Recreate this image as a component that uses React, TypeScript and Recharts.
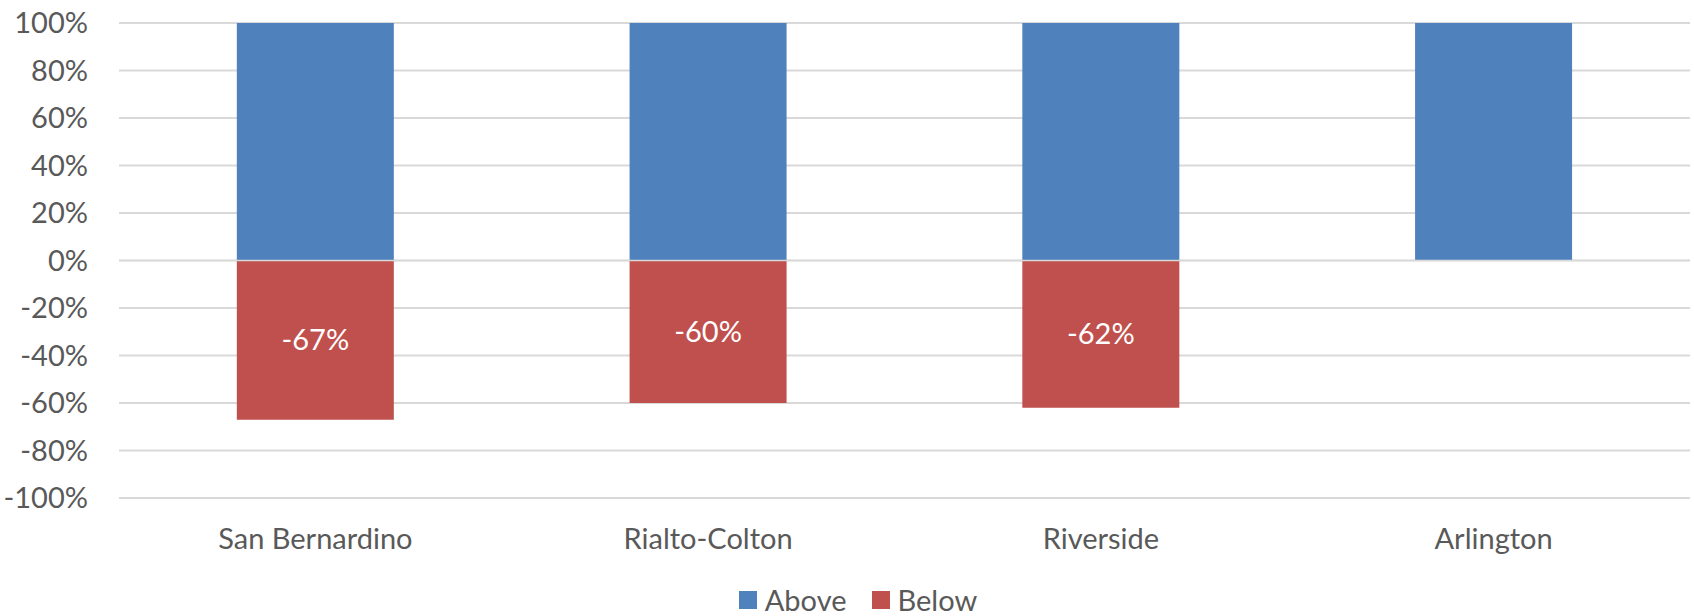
import {
  BarChart,
  Bar,
  XAxis,
  YAxis,
  CartesianGrid,
  Legend,
  LabelList,
  ReferenceLine,
} from "recharts";

const regions = ["San Bernardino", "Rialto-Colton", "Riverside", "Arlington"];
const above = [100, 100, 100, 100];
const below: (number | null)[] = [-67, -60, -62, null];
const yTicks = [-100, -80, -60, -40, -20, 0, 20, 40, 60, 80, 100];

const BLUE = "#4f81bd";
const RED = "#c0504d";
const TEXT = "#595959";
const GRID = "#d9d9d9";
const FONT = "Lato, 'Open Sans', sans-serif";
const FONT_SIZE = 29;

const data = regions.map((name, i) => ({
  name,
  above: above[i],
  below: below[i],
}));

const LegendContent = ({ payload }: any) => (
  <div
    style={{
      display: "flex",
      justifyContent: "center",
      gap: 25,
      paddingLeft: 26,
      fontFamily: FONT,
      fontSize: FONT_SIZE,
      color: TEXT,
    }}
  >
    {(payload || []).map((p: any) => (
      <span key={p.value} style={{ display: "flex", alignItems: "center" }}>
        <span
          style={{
            display: "inline-block",
            width: 18,
            height: 18,
            background: p.color,
            marginRight: 8,
          }}
        />
        {p.value}
      </span>
    ))}
  </div>
);

export default function App() {
  return (
    <div style={{ position: "absolute", left: 0, top: 0, background: "#fff" }}>
      <BarChart
        width={1694}
        height={616}
        data={data}
        stackOffset="sign"
        barCategoryGap="30%"
        margin={{ top: 23, right: 4, bottom: 0, left: 0 }}
        style={{ fontFamily: FONT }}
      >
        <CartesianGrid vertical={false} stroke={GRID} strokeWidth={2} />
        <XAxis
          dataKey="name"
          axisLine={false}
          tickLine={false}
          tickSize={0}
          tickMargin={30}
          height={84}
          tick={{ fill: TEXT, fontSize: FONT_SIZE }}
        />
        <YAxis
          domain={[-100, 100]}
          ticks={yTicks}
          width={119}
          axisLine={false}
          tickLine={false}
          tickSize={0}
          tickMargin={31}
          tickFormatter={(v: number) => `${v}%`}
          tick={{ fill: TEXT, fontSize: FONT_SIZE }}
        />
        <Legend verticalAlign="bottom" height={34} content={<LegendContent />} />
        <Bar dataKey="above" name="Above" stackId="s" fill={BLUE} isAnimationActive={false} />
        <Bar dataKey="below" name="Below" stackId="s" fill={RED} isAnimationActive={false}>
          <LabelList
            dataKey="below"
            position="center"
            fill="#ffffff"
            fontSize={FONT_SIZE}
            formatter={(v: any) => (v == null ? "" : `${v}%`)}
          />
        </Bar>
        <ReferenceLine y={0} stroke={GRID} strokeWidth={1.5} />
      </BarChart>
    </div>
  );
}
